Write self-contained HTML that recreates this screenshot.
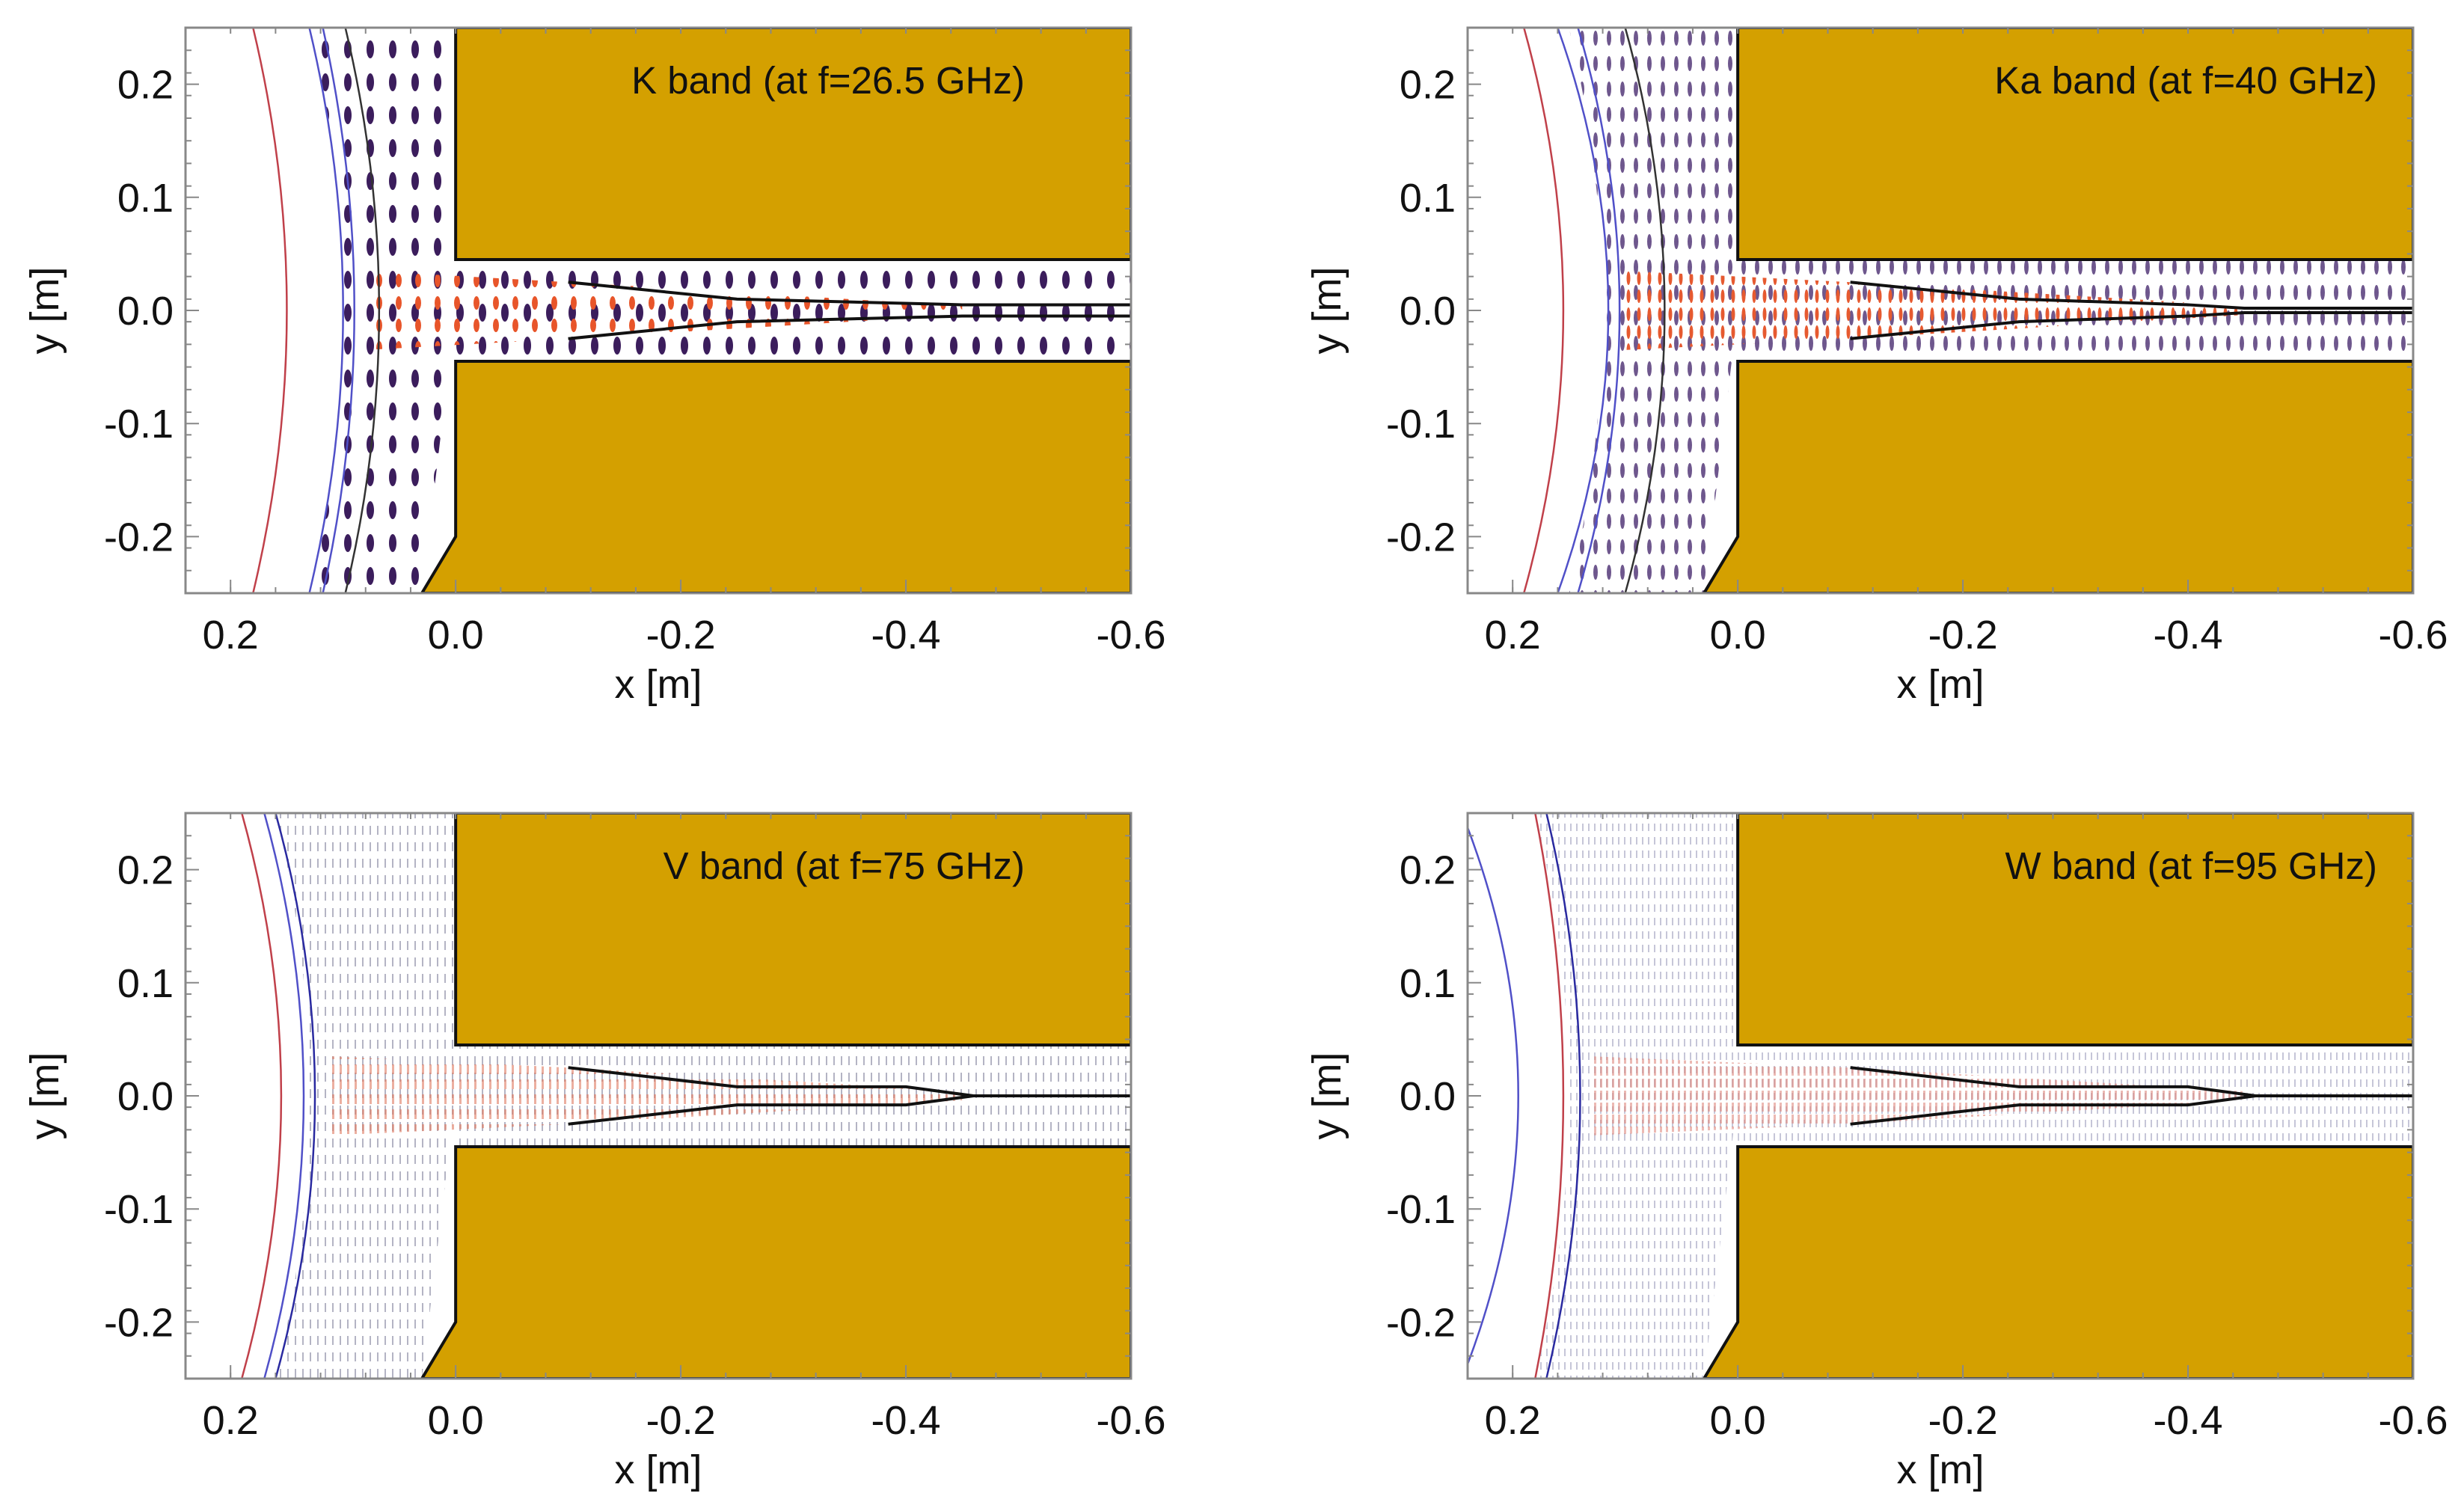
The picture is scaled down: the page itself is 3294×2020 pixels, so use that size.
<!DOCTYPE html>
<html><head><meta charset="utf-8">
<style>
html,body{margin:0;padding:0;background:#fff;}
svg text{font-family:"Liberation Sans",sans-serif;fill:#111;}
</style></head>
<body>
<svg id="fig" width="3294" height="2015" viewBox="0 0 3294 2015" xmlns="http://www.w3.org/2000/svg">
<defs>
<pattern id="pK" width="30" height="44" patternUnits="userSpaceOnUse"><ellipse cx="15" cy="22" rx="5" ry="12" fill="#3b1d5c"/></pattern>
<pattern id="pKo" width="26" height="30" patternUnits="userSpaceOnUse"><ellipse cx="13" cy="15" rx="4" ry="9" fill="#e8552a"/></pattern>
<pattern id="pKa" width="18" height="34" patternUnits="userSpaceOnUse"><ellipse cx="9" cy="17" rx="3" ry="10" fill="#4a2d70" opacity="0.8"/></pattern>
<pattern id="pKao" width="14" height="24" patternUnits="userSpaceOnUse"><ellipse cx="7" cy="12" rx="2.5" ry="9" fill="#e65a30"/></pattern>
<pattern id="pV" width="10" height="22" patternUnits="userSpaceOnUse"><rect x="4" y="4" width="2" height="12" fill="#6a6a8a" opacity="0.5"/></pattern>
<pattern id="pVo" width="10" height="20" patternUnits="userSpaceOnUse"><rect x="4" y="3" width="3" height="13" fill="#e07a60" opacity="0.6"/></pattern>
<pattern id="pW" width="8" height="18" patternUnits="userSpaceOnUse"><rect x="3" y="3" width="2" height="10" fill="#8080a8" opacity="0.45"/></pattern>
<pattern id="pWo" width="8" height="16" patternUnits="userSpaceOnUse"><rect x="3" y="2" width="3" height="12" fill="#e08a80" opacity="0.6"/></pattern>
</defs>
</svg>
<script>
// ---- data ----
const panelNames = ["K band (at f=26.5 GHz)","Ka band (at f=40 GHz)","V band (at f=75 GHz)","W band (at f=95 GHz)"];
const panelIds = ["k-band","ka-band","v-band","w-band"];
const xTicks = [0.2, 0.0, -0.2, -0.4, -0.6];
const xTickLabels = ["0.2","0.0","-0.2","-0.4","-0.6"];
const yTicks = [0.2, 0.1, 0.0, -0.1, -0.2];
const yTickLabels = ["0.2","0.1","0.0","-0.1","-0.2"];
// wall geometry (x,y) in metres
const wallTop = [[0,0.25],[0,0.045],[-0.6,0.045],[-0.6,0.25]];
const wallBottom = [[0,-0.045],[0,-0.2],[0.03,-0.25],[-0.6,-0.25],[-0.6,-0.045]];
// inner wedge upper edges per panel
const wedgeK = [[-0.1,0.025],[-0.25,0.01],[-0.45,0.005],[-0.6,0.005]];
const wedgeKa = [[-0.1,0.025],[-0.25,0.01],[-0.4,0.005],[-0.45,0.002],[-0.6,0.002]];
const wedgeV = [[-0.1,0.025],[-0.25,0.008],[-0.4,0.008],[-0.46,0],[-0.6,0]];
const wedgeW = [[-0.1,0.025],[-0.25,0.008],[-0.4,0.008],[-0.46,0],[-0.6,0]];
// arcs: [x at y=0, x at y=±0.25, colour]
const arcsK = [[0.15,0.18,"#c0404a"],[0.1,0.13,"#5050c8"],[0.09,0.118,"#5050c8"],[0.068,0.098,"#333"]];
const arcsKa = [[0.155,0.19,"#c0404a"],[0.115,0.16,"#5050c8"],[0.105,0.142,"#5050c8"],[0.065,0.1,"#333"]];
const arcsV = [[0.155,0.19,"#c0404a"],[0.135,0.17,"#5050c8"],[0.125,0.16,"#2a2aa0"]];
const arcsW = [[0.195,0.245,"#5050c8"],[0.155,0.18,"#c0404a"],[0.14,0.17,"#2a2aa0"]];
const wedges=[wedgeK,wedgeKa,wedgeV,wedgeW];
const arcs=[arcsK,arcsKa,arcsV,arcsW];
const pats=[["pK","pKo"],["pKa","pKao"],["pV","pVo"],["pW","pWo"]];
const fanStart=[0.1,0.12,0.13,0.15];

const NS="http://www.w3.org/2000/svg";
const svg=document.getElementById('fig');
const W=1264,H=756;
const origins=[[248,37],[1962,37],[248,1087],[1962,1087]];
function mk(tag,attrs,parent){const e=document.createElementNS(NS,tag);for(const k in attrs)e.setAttribute(k,attrs[k]);parent.appendChild(e);return e;}

origins.forEach((o,i)=>{
  const L=o[0],T=o[1];
  const sx=v=>L+(0.24-v)/0.84*W;
  const sy=v=>T+(0.25-v)/0.5*H;
  const g=mk('g',{},svg);
  
  
  const cid='clip'+i;
  const cp=mk('clipPath',{id:cid},g);
  mk('rect',{x:L,y:T,width:W,height:H},cp);
  const inner=mk('g',{'clip-path':'url(#'+cid+')'},g);
  mk('rect',{x:L,y:T,width:W,height:H,fill:'#fff'},inner);
  const fs=fanStart[i];
  const fan=mk('path',{d:`M${sx(fs+0.03)},${sy(0.25)} Q${sx(fs-0.03)},${sy(0)} ${sx(fs+0.03)},${sy(-0.25)} L${sx(0.03)},${sy(-0.25)} L${sx(0)},${sy(0)} L${sx(0)},${sy(0.25)} Z`,fill:`url(#${pats[i][0]})`},inner);
  
  
  const ch=mk('rect',{x:sx(0),y:sy(0.045),width:sx(-0.6)-sx(0),height:sy(-0.045)-sy(0.045),fill:`url(#${pats[i][0]})`},inner);
  
  
  const beam=mk('path',{d:`M${sx(fs-0.02)},${sy(0.035)} L${sx(-0.1)},${sy(0.025)} L${sx(-0.45)},${sy(0.004)} L${sx(-0.45)},${sy(-0.004)} L${sx(-0.1)},${sy(-0.025)} L${sx(fs-0.02)},${sy(-0.035)} Z`,fill:`url(#${pats[i][1]})`},inner);
  
  
  arcs[i].forEach(a=>{
    const p=mk('path',{d:`M${sx(a[1])},${sy(0.25)} Q${sx(2*a[0]-a[1])},${sy(0)} ${sx(a[1])},${sy(-0.25)}`,fill:'none',stroke:a[2],'stroke-width':2.5},inner);
    
    
  });
  [wallTop,wallBottom].forEach((poly,j)=>{
    const p=mk('polygon',{points:poly.map(q=>sx(q[0])+','+sy(q[1])).join(' '),fill:'#d4a000',stroke:'#111','stroke-width':4},inner);
    
    
  });
  [1,-1].forEach(s=>{
    const p=mk('polyline',{points:wedges[i].map(q=>sx(q[0])+','+sy(s*q[1])).join(' '),fill:'none',stroke:'#111','stroke-width':4},inner);
    
    
  });
  const fr=mk('rect',{x:L,y:T,width:W,height:H,fill:'none',stroke:'#888','stroke-width':3},g);
  
  
  for(let v=0.24;v>=-0.6001;v-=0.04){const X=sx(v);mk('line',{x1:X,y1:T+H,x2:X,y2:T+H-8,stroke:'#888','stroke-width':2},g);mk('line',{x1:X,y1:T,x2:X,y2:T+8,stroke:'#888','stroke-width':2},g);}
  for(let v=-0.25;v<=0.2501;v+=0.02){const Y=sy(v);mk('line',{x1:L,y1:Y,x2:L+8,y2:Y,stroke:'#888','stroke-width':2},g);mk('line',{x1:L+W,y1:Y,x2:L+W-8,y2:Y,stroke:'#888','stroke-width':2},g);}
  xTicks.forEach((v,k)=>{
    const X=sx(v);
    mk('line',{x1:X,y1:T+H,x2:X,y2:T+H-18,stroke:'#888','stroke-width':2},g);
    const t=mk('text',{x:X,y:T+H+74,'font-size':54,'text-anchor':'middle'},g);
    t.textContent=xTickLabels[k];
    
    
  });
  yTicks.forEach((v,k)=>{
    const Y=sy(v);
    mk('line',{x1:L,y1:Y,x2:L+18,y2:Y,stroke:'#888','stroke-width':2},g);
    const t=mk('text',{x:L-16,y:Y+19,'font-size':54,'text-anchor':'end'},g);
    t.textContent=yTickLabels[k];
    
    
  });
  const xt=mk('text',{x:L+W/2,y:T+H+140,'font-size':54,'text-anchor':'middle'},g);
  xt.textContent='x [m]';
  
  
  const yt=mk('text',{x:0,y:0,'font-size':54,'text-anchor':'middle',transform:`translate(${L-170},${T+H/2}) rotate(-90)`},g);
  yt.textContent='y [m]';
  
  
  const lab=mk('text',{x:(i%2?L+W-48:L+W-142),y:T+88,'font-size':51,'text-anchor':'end'},g);
  lab.textContent=panelNames[i];
  
  
});
</script>
</body></html>
